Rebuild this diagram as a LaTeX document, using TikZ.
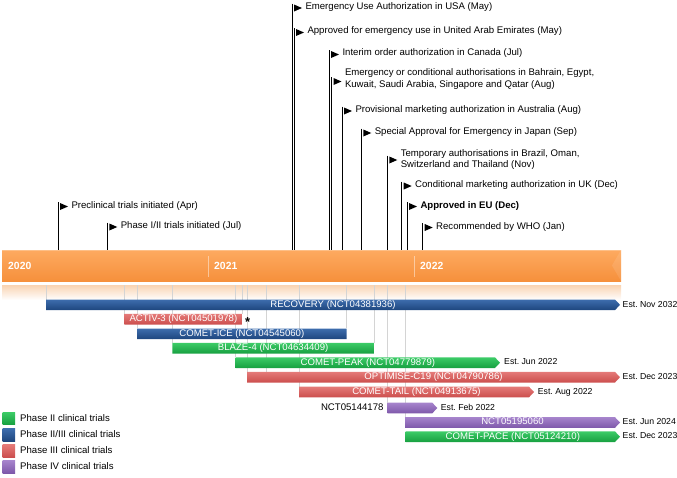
\documentclass[tikz,border=0pt]{standalone}
\usepackage{fontspec}
\setmainfont{Liberation Sans}
\frenchspacing
\definecolor{bluetop}{HTML}{3D6DAD}
\definecolor{bluebot}{HTML}{1E467E}
\definecolor{greentop}{HTML}{3CCB67}
\definecolor{greenbot}{HTML}{17A040}
\definecolor{redtop}{HTML}{E47A78}
\definecolor{redbot}{HTML}{CC4E4D}
\definecolor{purpletop}{HTML}{A684CC}
\definecolor{purplebot}{HTML}{7E58AA}
\definecolor{bandtop}{HTML}{FDAA60}
\definecolor{bandbot}{HTML}{F6903C}
\definecolor{refl}{HTML}{F9D3B2}
\definecolor{guide}{HTML}{D4D4D4}
\tikzset{
  mstext/.style={anchor=west, inner sep=0pt, font=\fontsize{9.6}{11.3}\selectfont, align=left},
  msline/.style={black, line width=0.9pt},
  flag/.style={fill=black},
  barlabel/.style={inner sep=0pt, text=white, font=\fontsize{9.6}{11}\selectfont, text height=6.8pt, text depth=2pt},
  estlabel/.style={anchor=west, inner sep=0pt, font=\fontsize{8.7}{11}\selectfont, text height=6.3pt, text depth=1.9pt},
  yearlabel/.style={anchor=west, inner sep=0pt, text=white, font=\fontsize{10.4}{12}\selectfont\bfseries},
  guideline/.style={guide, line width=0.8pt},
  legtext/.style={anchor=west, inner sep=0pt, font=\fontsize{9.6}{11}\selectfont, text height=6.8pt, text depth=2pt},
  legsq/.style={inner sep=0pt, minimum width=12.5pt, minimum height=12.5pt},
}
\newcommand\milestone[5]{%
  \node[mstext] (#1) at (#2+13.3,#3) {#5};
  \coordinate (#1-top) at (#2,#4);
  \coordinate (#1-bot) at (#2,250);
  \draw[msline] (#1-top) -- (#1-bot);
  \fill[flag] (#2+2,#4+1) -- (#2+10,#4+4.5) -- (#2+2,#4+8) -- cycle;
}
\newcommand\trialbar[7]{%
  \shade[top color=#5top, bottom color=#5bot] (#2,#4-5.3) -- (#3-#6,#4-5.3) -- (#3,#4) -- (#3-#6,#4+5.3) -- (#2,#4+5.3) -- cycle;
  \node[barlabel] (#1) at ({(#2+#3)/2},#4) {#7};
}
\begin{document}
\begin{tikzpicture}[x=1pt,y=-1pt]
\useasboundingbox (0,0) rectangle (677,477);
% timeline band
\shade[top color=bandtop, bottom color=bandbot] (2,250) rectangle (621,281);
\draw[white, opacity=0.25, line width=0.6pt] (2,250.5) -- (621,250.5);
\fill[white, opacity=0.1] (621,250) -- (612,265.5) -- (621,281) -- cycle;
\draw[white, opacity=0.45, line width=0.8pt] (208.3,256) -- (208.3,277);
\draw[white, opacity=0.45, line width=0.8pt] (414.3,256) -- (414.3,277);
\node[yearlabel] (y2020) at (8,266) {2020};
\node[yearlabel] (y2021) at (214,266) {2021};
\node[yearlabel] (y2022) at (420,266) {2022};
% reflection
\shade[top color=refl, bottom color=white] (2,285) rectangle (621,300);
% guide lines
\foreach \gx/\gy in {46/300, 124.3/314, 137/328, 172.3/343, 235.7/357, 242.5/314, 247/372, 266.7/372, 299/387, 346.7/328, 374/343, 387.7/403, 405/417}
  \draw[guideline] (\gx,285) -- (\gx,\gy);
% milestones
\milestone{pre}{58}{205.7}{202}{Preclinical trials initiated (Apr)}
\milestone{ph12}{107.3}{226}{222.5}{Phase I/II trials initiated (Jul)}
\milestone{eua}{292}{7}{3.5}{Emergency Use Authorization in USA (May)}
\milestone{uae}{294}{31.5}{28}{Approved for emergency use in United Arab Emirates (May)}
\milestone{can}{329}{53.3}{50}{Interim order authorization in Canada (Jul)}
\milestone{bah}{331.5}{79}{77}{Emergency or conditional authorisations in Bahrain, Egypt,\\Kuwait, Saudi Arabia, Singapore and Qatar (Aug)}
\milestone{aus}{342}{110}{106.5}{Provisional marketing authorization in Australia (Aug)}
\milestone{jpn}{361.3}{132}{128.5}{Special Approval for Emergency in Japan (Sep)}
\milestone{bra}{387.3}{159.5}{155.5}{Temporary authorisations in Brazil, Oman,\\Switzerland and Thailand (Nov)}
\milestone{uk}{401.7}{185}{181.5}{Conditional marketing authorization in UK (Dec)}
\milestone{eu}{407}{205.7}{202}{\bfseries Approved in EU (Dec)}
\milestone{who}{422.7}{226.7}{223}{Recommended by WHO (Jan)}
% trials
\trialbar{rec}{46}{620}{304.8}{blue}{5}{RECOVERY (NCT04381936)}
\node[estlabel] (est-rec) at (622.5,304.8) {Est. Nov 2032};
\trialbar{act}{124.3}{242.5}{319.2}{red}{0}{ACTIV-3 (NCT04501978)}
\node[inner sep=0pt, font=\fontsize{13}{13}\selectfont\bfseries] (star) at (247.6,322.2) {*};
\trialbar{ice}{137}{346.7}{333.8}{blue}{0}{COMET-ICE (NCT04545060)}
\trialbar{blz}{172.3}{374}{348.2}{green}{0}{BLAZE-4 (NCT04634409)}
\trialbar{peak}{235.7}{500}{362.7}{green}{5}{COMET-PEAK (NCT04779879)}
\node[estlabel] (est-peak) at (504,362.7) {Est. Jun 2022};
\trialbar{opt}{247}{620}{377.2}{red}{5}{OPTIMISE-C19 (NCT04790786)}
\node[estlabel] (est-opt) at (622.5,377.2) {Est. Dec 2023};
\trialbar{tail}{299}{534}{392}{red}{5}{COMET-TAIL (NCT04913675)}
\node[estlabel] (est-tail) at (537.7,392) {Est. Aug 2022};
\trialbar{n1}{387.7}{437.3}{408}{purple}{5}{}
\node[barlabel, text=black, anchor=east] (n1-lab) at (383.7,408) {NCT05144178};
\node[estlabel] (est-n1) at (440.7,408) {Est. Feb 2022};
\trialbar{n2}{405}{620}{422.5}{purple}{5}{NCT05195060}
\node[estlabel] (est-n2) at (622.5,422.5) {Est. Jun 2024};
\trialbar{pace}{405.7}{620}{436.7}{green}{5}{COMET-PACE (NCT05124210)}
\node[estlabel] (est-pace) at (622.5,436.7) {Est. Dec 2023};
% legend
\node[legsq, top color=greentop, bottom color=greenbot] (lg1) at (8.9,418.4) {};
\node[legtext] (lt1) at (20,418.6) {Phase II clinical trials};
\node[legsq, top color=bluetop, bottom color=bluebot] (lg2) at (8.9,434.8) {};
\node[legtext] (lt2) at (20,435) {Phase II/III clinical trials};
\node[legsq, top color=redtop, bottom color=redbot] (lg3) at (8.9,451) {};
\node[legtext] (lt3) at (20,451.2) {Phase III clinical trials};
\node[legsq, top color=purpletop, bottom color=purplebot] (lg4) at (8.9,466.8) {};
\node[legtext] (lt4) at (20,467) {Phase IV clinical trials};
\end{tikzpicture}
\end{document}
